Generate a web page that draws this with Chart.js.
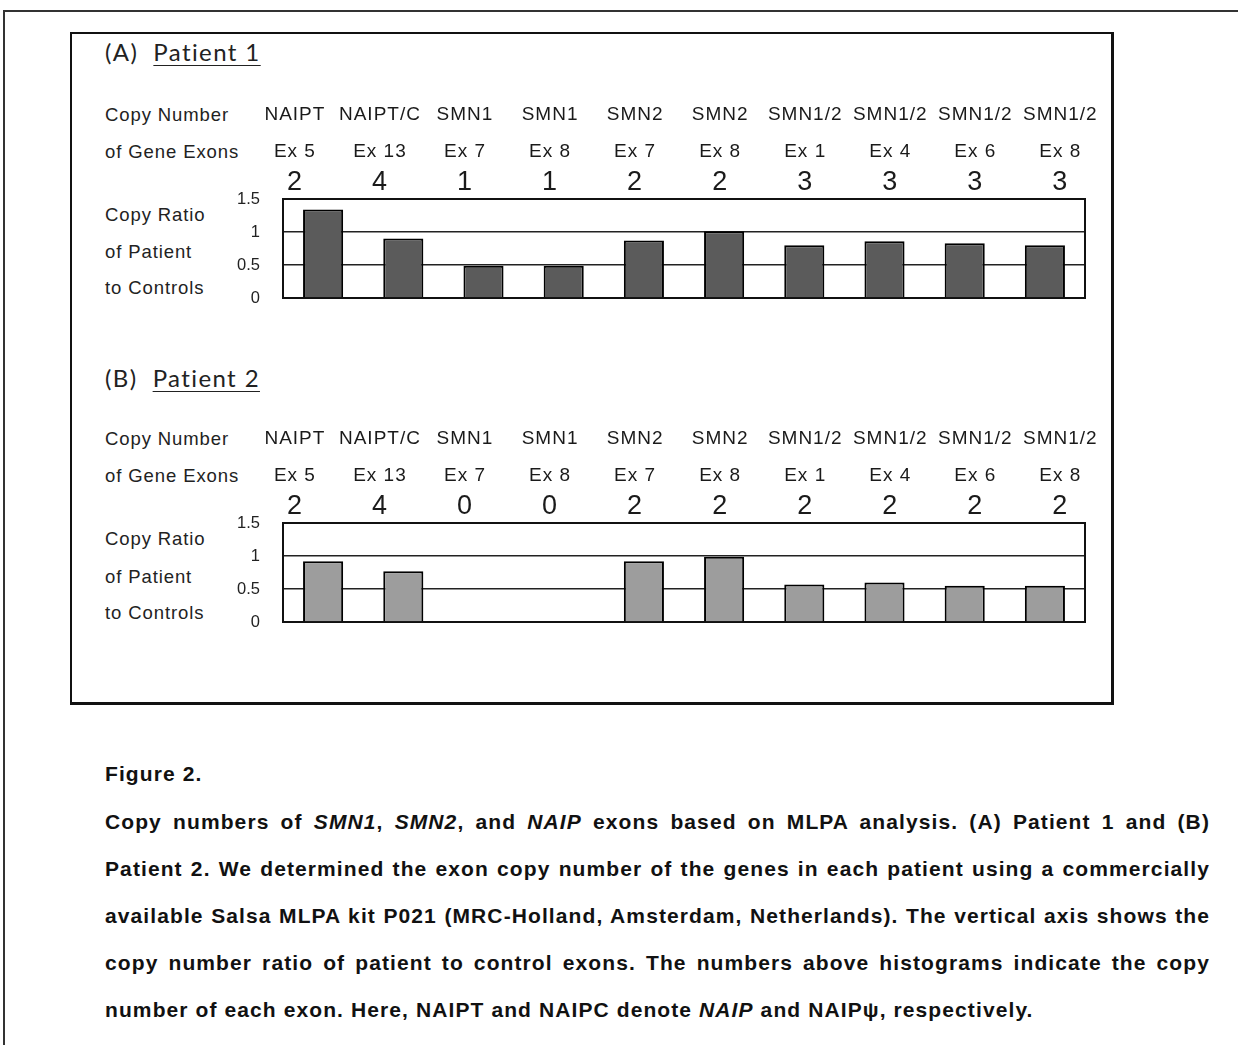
<!DOCTYPE html>
<html>
<head>
<meta charset="utf-8">
<script src="https://cdn.jsdelivr.net/npm/chart.js@4/dist/chart.umd.min.js"></script>
<style>
  body { margin: 0; background: #fff; }
  #page { position: relative; width: 1238px; height: 1045px; overflow: hidden;
          font-family: "Liberation Sans", Arial, sans-serif; color: #1a1a1a; }
  .edgeTop { position: absolute; left: 3px; top: 10px; width: 1240px; border-top: 2px solid #333; }
  .edgeLeft { position: absolute; left: 3px; top: 10px; height: 1040px; border-left: 2px solid #333; }
  #box { position: absolute; left: 70px; top: 32px; width: 1039px; height: 668px;
         border: 2px solid #111; border-right-width: 3px; border-bottom-width: 3px; }
  .ttl { position: absolute; left: 105px; font-family: Lato, "Open Sans", sans-serif;
         font-size: 24px; line-height: 28px; letter-spacing: 1.4px; color: #222; }
  .ttl u { text-decoration-thickness: 1px; text-underline-offset: 4px; }
  .lab { position: absolute; left: 105px; font-size: 18.5px; line-height: 20px;
         letter-spacing: 0.9px; color: #222; }
  canvas { position: absolute; left: 200px; }
  .cap { position: absolute; left: 105px; width: 1105px; font-weight: bold; font-size: 21px;
         letter-spacing: 1.1px; line-height: 47px; color: #111; }
  .cap div { text-align: justify; text-align-last: justify; white-space: nowrap; }
  .cap div.last { text-align-last: left; }
</style>
</head>
<body>
<div id="page">
  <div class="edgeTop"></div>
  <div class="edgeLeft"></div>
  <div id="box"></div>

  <div class="ttl" style="top:38px">(A)&nbsp; <u>Patient 1</u></div>
  <div class="lab" style="top:105px">Copy Number</div>
  <div class="lab" style="top:142px">of Gene Exons</div>
  <div class="lab" style="top:205px">Copy Ratio</div>
  <div class="lab" style="top:242px">of Patient</div>
  <div class="lab" style="top:278px">to Controls</div>
  <canvas id="chartA" width="900" height="237" style="top:95px"></canvas>

  <div class="ttl" style="top:364px">(B)&nbsp; <u>Patient 2</u></div>
  <div class="lab" style="top:429px">Copy Number</div>
  <div class="lab" style="top:466px">of Gene Exons</div>
  <div class="lab" style="top:529px">Copy Ratio</div>
  <div class="lab" style="top:567px">of Patient</div>
  <div class="lab" style="top:603px">to Controls</div>
  <canvas id="chartB" width="900" height="236" style="top:420px"></canvas>

  <div class="cap" style="top:750px"><div class="last">Figure 2.</div></div>
  <div class="cap" style="top:798px">
    <div>Copy numbers of <i>SMN1</i>, <i>SMN2</i>, and <i>NAIP</i> exons based on MLPA analysis. (A) Patient 1 and (B)</div>
    <div>Patient 2. We determined the exon copy number of the genes in each patient using a commercially</div>
    <div>available Salsa MLPA kit P021 (MRC-Holland, Amsterdam, Netherlands). The vertical axis shows the</div>
    <div>copy number ratio of patient to control exons. The numbers above histograms indicate the copy</div>
    <div class="last">number of each exon. Here, NAIPT and NAIPC denote <i>NAIP</i> and NAIP&psi;, respectively.</div>
  </div>
</div>

<script>
// exon probes, same order in both patients
var genes = ['NAIPT', 'NAIPT/C', 'SMN1', 'SMN1', 'SMN2', 'SMN2', 'SMN1/2', 'SMN1/2', 'SMN1/2', 'SMN1/2'];
var exons = ['Ex 5', 'Ex 13', 'Ex 7', 'Ex 8', 'Ex 7', 'Ex 8', 'Ex 1', 'Ex 4', 'Ex 6', 'Ex 8'];

// copy numbers printed above the bars
var copiesP1 = [2, 4, 1, 1, 2, 2, 3, 3, 3, 3];
var copiesP2 = [2, 4, 0, 0, 2, 2, 2, 2, 2, 2];

// copy ratio of patient to controls
var ratioP1 = [1.34, 0.90, 0.49, 0.49, 0.87, 1.01, 0.80, 0.86, 0.83, 0.80];
var ratioP2 = [0.92, 0.77, 0, 0, 0.92, 0.99, 0.57, 0.60, 0.55, 0.55];

var yTicks = [0, 0.5, 1, 1.5];

var categories = genes.map(function (g, i) { return g + ' ' + exons[i]; });

// header table above the bars + frame round the plot
var exonHeader = {
  id: 'exonHeader',
  beforeDatasetsDraw: function (chart) {
    var a = chart.chartArea, ctx = chart.ctx;
    ctx.save();
    ctx.strokeStyle = '#111';
    ctx.lineWidth = 2;
    ctx.strokeRect(a.left, a.top, a.right - a.left, a.bottom - a.top);
    ctx.restore();
  },
  afterDraw: function (chart, args, opts) {
    var a = chart.chartArea, ctx = chart.ctx;
    var hdr = chart.scales.hdr;
    ctx.save();
    ctx.fillStyle = '#1a1a1a';
    ctx.textAlign = 'center';
    ctx.textBaseline = 'middle';
    ctx.letterSpacing = '1px';
    for (var i = 0; i < genes.length; i++) {
      var x = hdr.getPixelForValue(i);
      ctx.font = '19px "Liberation Sans"';
      ctx.fillText(genes[i], x, a.top - 84);
      ctx.fillText(exons[i], x, a.top - 47);
      ctx.font = '27px "Liberation Sans"';
      ctx.fillText(String(opts.copies[i]), x, a.top - 16);
    }
    ctx.restore();
  }
};

function makeChart(id, ratios, copies, barColor, padTop) {
  var ctx = document.getElementById(id).getContext('2d');
  return new Chart(ctx, {
    type: 'bar',
    data: {
      labels: categories,
      datasets: [{
        data: ratios,
        backgroundColor: barColor,
        borderColor: '#000',
        borderWidth: 2,
        borderSkipped: 'bottom',
        categoryPercentage: 1,
        barPercentage: 0.5
      }]
    },
    plugins: [exonHeader],
    options: {
      responsive: false,
      animation: false,
      layout: { padding: { top: padTop, bottom: 34, right: 15, left: 0 } },
      plugins: {
        legend: { display: false },
        tooltip: { enabled: false },
        exonHeader: { copies: copies }
      },
      scales: {
        x: {
          display: false
        },
        // header columns sit on a slightly wider grid than the bars
        hdr: {
          type: 'linear', axis: 'x', position: 'top',
          offset: false, bounds: 'data', min: -0.14, max: 9.29,
          grid: { display: false, drawTicks: false, offset: false },
          border: { display: false },
          ticks: { display: false }
        },
        y: {
          min: 0, max: 1.5,
          afterBuildTicks: function (s) { s.ticks = yTicks.map(function (v) { return { value: v }; }); },
          afterFit: function (s) { s.width = 83; },
          grid: { color: '#222', lineWidth: 1.5, drawTicks: false },
          border: { display: false },
          ticks: {
            padding: 23,
            color: '#222',
            font: { family: 'Liberation Sans', size: 16.5 },
            callback: function (v) { return String(v); }
          }
        }
      }
    }
  });
}

var chartA = makeChart('chartA', ratioP1, copiesP1, '#5b5b5b', 104);
var chartB = makeChart('chartB', ratioP2, copiesP2, '#9d9d9d', 103);
</script>
</body>
</html>
